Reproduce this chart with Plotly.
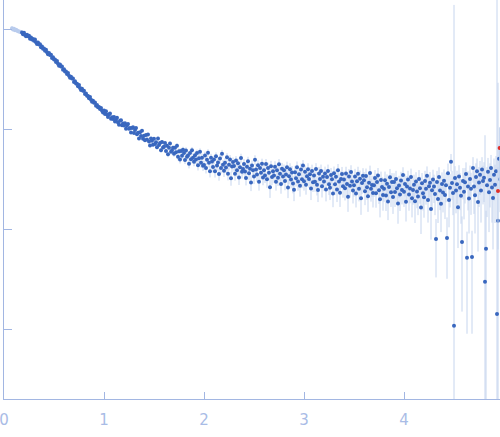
import plotly.graph_objects as go

# excluded low-q points (drawn pale)
q_excl = [0.08, 0.09, 0.10, 0.11, 0.12, 0.13, 0.14, 0.15, 0.16, 0.17]
i_excl = [1040, 1010, 1025, 995, 1005, 985, 972, 966, 958, 948]
e_excl = [45, 32, 22, 16, 13, 11, 10, 9, 8, 8]

# low q
q_low = [0.18, 0.19, 0.20, 0.21, 0.22, 0.23, 0.24, 0.25, 0.26, 0.27, 0.28,
         0.29, 0.30, 0.31, 0.32, 0.33, 0.34, 0.35, 0.36, 0.37, 0.38, 0.39,
         0.40, 0.41, 0.42, 0.43, 0.44, 0.45, 0.46, 0.47, 0.48, 0.49, 0.50,
         0.51, 0.52, 0.53, 0.54, 0.55, 0.56, 0.57, 0.58, 0.59, 0.60, 0.61,
         0.62, 0.63, 0.64, 0.65, 0.66, 0.67, 0.68, 0.69, 0.70, 0.71, 0.72,
         0.73, 0.74, 0.75, 0.76, 0.77, 0.78, 0.79, 0.80, 0.81, 0.82, 0.83,
         0.84, 0.85, 0.86, 0.87, 0.88, 0.89, 0.90, 0.91, 0.92, 0.93, 0.94,
         0.95, 0.96, 0.97, 0.98, 0.99]
i_low = [942, 904, 939, 892, 864, 896, 865, 873, 818, 839, 804,
         813, 778, 801, 754, 724, 746, 716, 720, 670, 683, 649,
         651, 617, 634, 596, 571, 587, 562, 563, 524, 533, 505,
         505, 477, 489, 458, 438, 450, 430, 429, 398, 404, 382,
         382, 362, 371, 347, 332, 340, 325, 325, 301, 306, 290,
         289, 273, 280, 262, 250, 257, 246, 246, 228, 231, 219,
         218, 207, 212, 199, 190, 195, 186, 187, 174, 177, 168,
         169, 161, 165, 155, 149]
e_low = [12, 12, 12, 11, 11, 11, 11, 11, 10, 10, 10,
         10, 10, 9, 9, 9, 9, 9, 8, 8, 8, 8,
         8, 8, 7, 7, 7, 7, 7, 7, 6, 6, 6,
         6, 6, 6, 6, 5, 5, 5, 5, 5, 5, 5,
         4.8, 4.7, 4.6, 4.5, 4.4, 4.3, 4.2, 4.1, 4.0, 3.9, 3.8,
         3.7, 3.6, 3.6, 3.5, 3.4, 3.4, 3.3, 3.2, 3.2, 3.1, 3.1,
         3.0, 3.0, 2.9, 2.9, 2.8, 2.8, 2.7, 2.7, 2.7, 2.6, 2.6,
         2.6, 2.5, 2.5, 2.5, 2.5]

# mid q
q_mid = [1.00, 1.01, 1.02, 1.03, 1.04, 1.05, 1.06, 1.07, 1.08, 1.09,
         1.10, 1.11, 1.12, 1.13, 1.14, 1.15, 1.16, 1.17, 1.18, 1.19,
         1.20, 1.21, 1.22, 1.23, 1.24, 1.25, 1.26, 1.27, 1.28, 1.29,
         1.30, 1.31, 1.32, 1.33, 1.34, 1.35, 1.36, 1.37, 1.38, 1.39,
         1.40, 1.41, 1.42, 1.43, 1.44, 1.45, 1.46, 1.47, 1.48, 1.49,
         1.50, 1.51, 1.52, 1.53, 1.54, 1.55, 1.56, 1.57, 1.58, 1.59,
         1.60, 1.61, 1.62, 1.63, 1.64, 1.65, 1.66, 1.67, 1.68, 1.69,
         1.70, 1.71, 1.72, 1.73, 1.74, 1.75, 1.76, 1.77, 1.78, 1.79,
         1.80, 1.81, 1.82, 1.83, 1.84, 1.85, 1.86, 1.87, 1.88, 1.89,
         1.90, 1.91, 1.92, 1.93, 1.94, 1.95, 1.96, 1.97, 1.98, 1.99]
i_mid = [156, 144, 153, 142, 134, 142, 145, 129, 133, 128,
         134, 121, 125, 132, 118, 112, 123, 124, 111, 115,
         110, 116, 102, 110, 114, 102, 104, 93.8, 104, 106,
         92.8, 99.5, 104, 90.0, 92.9, 81.7, 94.1, 86.6, 97.7, 81.0,
         86.8, 78.3, 88.2, 79.8, 89.4, 76.2, 69.5, 81.4, 77.6, 70.7,
         81.2, 72.0, 74.8, 66.7, 81.8, 70.2, 73.6, 62.3, 75.4, 66.3,
         67.6, 73.7, 61.0, 69.0, 56.6, 65.7, 72.7, 60.0, 62.0, 65.9,
         57.4, 66.0, 59.3, 69.0, 53.5, 60.7, 50.1, 61.3, 54.9, 62.9,
         58.4, 49.7, 62.0, 53.4, 55.2, 45.6, 58.3, 50.4, 62.2, 52.4,
         47.8, 55.3, 50.2, 58.2, 43.9, 51.8, 60.0, 46.6, 52.3, 43.5]
e_mid = [2.6, 2.6, 2.5, 2.5, 2.5, 2.4, 2.4, 2.4, 2.3, 2.3,
         2.3, 2.3, 2.2, 2.2, 2.2, 2.2, 2.1, 2.1, 2.1, 2.1,
         2.1, 2.0, 2.0, 2.0, 2.0, 2.0, 2.0, 1.9, 1.9, 1.9,
         2.0, 2.1, 2.1, 2.2, 2.2, 2.3, 2.3, 2.4, 2.4, 2.5,
         2.5, 2.6, 2.6, 2.7, 2.7, 2.8, 2.8, 2.9, 2.9, 3.0,
         3.0, 3.1, 3.1, 3.2, 3.2, 3.3, 3.3, 3.4, 3.4, 3.5,
         3.5, 3.6, 3.6, 3.7, 3.7, 3.8, 3.8, 3.9, 3.9, 4.0,
         4.0, 4.1, 4.1, 4.2, 4.2, 4.3, 4.3, 4.4, 4.4, 4.5,
         4.5, 4.5, 4.6, 4.6, 4.6, 4.7, 4.7, 4.7, 4.8, 4.8,
         4.8, 4.8, 4.9, 4.9, 4.9, 4.9, 4.9, 4.9, 4.9, 4.9]

# high q, noisy
q_high = [2.00, 2.01, 2.02, 2.03, 2.04, 2.05, 2.06, 2.07, 2.08, 2.09,
          2.10, 2.11, 2.12, 2.13, 2.14, 2.15, 2.16, 2.17, 2.18, 2.19,
          2.20, 2.21, 2.22, 2.23, 2.24, 2.25, 2.26, 2.27, 2.28, 2.29,
          2.30, 2.31, 2.32, 2.33, 2.34, 2.35, 2.36, 2.37, 2.38, 2.39,
          2.40, 2.41, 2.42, 2.43, 2.44, 2.45, 2.46, 2.47, 2.48, 2.49,
          2.50, 2.51, 2.52, 2.53, 2.54, 2.55, 2.56, 2.57, 2.58, 2.59,
          2.60, 2.61, 2.62, 2.63, 2.64, 2.65, 2.66, 2.67, 2.68, 2.69,
          2.70, 2.71, 2.72, 2.73, 2.74, 2.75, 2.76, 2.77, 2.78, 2.79,
          2.80, 2.81, 2.82, 2.83, 2.84, 2.85, 2.86, 2.87, 2.88, 2.89,
          2.90, 2.91, 2.92, 2.93, 2.94, 2.95, 2.96, 2.97, 2.98, 2.99,
          3.00, 3.01, 3.02, 3.03, 3.04, 3.05, 3.06, 3.07, 3.08, 3.09,
          3.10, 3.11, 3.12, 3.13, 3.14, 3.15, 3.16, 3.17, 3.18, 3.19,
          3.20, 3.21, 3.22, 3.23, 3.24, 3.25, 3.26, 3.27, 3.28, 3.29,
          3.30, 3.31, 3.32, 3.33, 3.34, 3.35, 3.36, 3.37, 3.38, 3.39,
          3.40, 3.41, 3.42, 3.43, 3.44, 3.45, 3.46, 3.47, 3.48, 3.49,
          3.50, 3.51, 3.52, 3.53, 3.54, 3.55, 3.56, 3.57, 3.58, 3.59,
          3.60, 3.61, 3.62, 3.63, 3.64, 3.65, 3.66, 3.67, 3.68, 3.69,
          3.70, 3.71, 3.72, 3.73, 3.74, 3.75, 3.76, 3.77, 3.78, 3.79,
          3.80, 3.81, 3.82, 3.83, 3.84, 3.85, 3.86, 3.87, 3.88, 3.89,
          3.90, 3.91, 3.92, 3.93, 3.94, 3.95, 3.96, 3.97, 3.98, 3.99,
          4.00, 4.01, 4.02, 4.03, 4.04, 4.05, 4.06, 4.07, 4.08, 4.09,
          4.10, 4.11, 4.12, 4.13, 4.14, 4.15, 4.16, 4.17, 4.18, 4.19,
          4.20, 4.21, 4.22, 4.23, 4.24, 4.25, 4.26, 4.27, 4.28, 4.29,
          4.30, 4.31, 4.32, 4.33, 4.34, 4.35, 4.36, 4.37, 4.38, 4.39,
          4.40, 4.41, 4.42, 4.43, 4.44, 4.45, 4.46, 4.47, 4.48, 4.49,
          4.50, 4.51, 4.52, 4.53, 4.54, 4.55, 4.56, 4.57, 4.58, 4.59,
          4.60, 4.61, 4.62, 4.63, 4.64, 4.65, 4.66, 4.67, 4.68, 4.69,
          4.70, 4.71, 4.72, 4.73, 4.74, 4.75, 4.76, 4.77, 4.78, 4.79,
          4.80, 4.81, 4.82, 4.83, 4.84, 4.85, 4.86, 4.87, 4.88, 4.89,
          4.90, 4.91, 4.92, 4.93, 4.94, 4.95, 4.96]
i_high = [44.2, 55.2, 41.3, 49.9, 58.6, 46.6, 38.4, 52.3, 48.0, 42.2,
          50.1, 38.2, 54.3, 43.7, 46.9, 35.9, 51.5, 41.4, 57.5, 44.6,
          38.7, 46.6, 41.8, 52.8, 36.1, 44.4, 50.2, 32.6, 42.7, 47.5,
          43.3, 36.1, 49.1, 39.1, 46.2, 33.2, 42.0, 52.1, 37.8, 40.3,
          45.4, 38.1, 32.8, 42.5, 48.2, 36.5, 40.5, 29.6, 43.7, 39.3,
          33.9, 49.9, 39.8, 35.5, 44.1, 30.0, 41.3, 37.1, 45.6, 33.2,
          39.3, 34.8, 45.4, 31.8, 41.2, 37.0, 26.5, 43.1, 33.6, 38.2,
          34.8, 42.5, 30.0, 39.2, 32.9, 45.0, 36.2, 28.5, 40.6, 34.0,
          39.1, 30.5, 35.5, 41.9, 26.3, 34.1, 40.1, 31.6, 37.3, 28.8,
          25.0, 37.5, 32.6, 42.0, 30.2, 35.7, 27.4, 39.9, 31.9, 43.7,
          30.4, 37.9, 28.1, 34.1, 40.2, 32.1, 35.8, 25.7, 38.5, 29.7,
          34.7, 30.0, 40.3, 28.1, 24.8, 36.3, 32.0, 38.6, 27.1, 33.7,
          30.3, 36.4, 25.1, 33.5, 38.6, 28.3, 26.1, 35.1, 31.9, 22.9,
          36.5, 28.4, 33.7, 25.2, 39.1, 30.2, 23.3, 32.1, 35.9, 27.1,
          31.7, 25.9, 36.3, 28.6, 21.3, 33.9, 27.4, 37.6, 30.2, 24.6,
          27.7, 34.0, 22.9, 30.4, 36.1, 25.6, 32.2, 20.5, 29.2, 34.6,
          31.2, 24.1, 34.4, 26.5, 21.5, 29.4, 36.8, 25.6, 27.9, 23.2,
          27.8, 32.7, 23.0, 29.8, 34.7, 24.7, 20.1, 31.3, 26.7, 22.1,
          25.6, 31.2, 21.9, 28.7, 19.1, 26.7, 33.4, 23.6, 29.8, 21.1,
          29.8, 23.7, 32.0, 25.9, 18.2, 27.6, 22.4, 30.9, 24.8, 35.1,
          23.8, 28.6, 18.9, 27.0, 31.6, 22.4, 25.7, 33.5, 20.5, 24.8,
          28.0, 19.2, 30.2, 24.0, 21.4, 32.0, 25.9, 16.6, 29.1, 23.0,
          21.0, 30.6, 25.5, 34.6, 19.7, 27.1, 29.3, 16.0, 24.7, 31.7,
          26.9, 22.6, 8.0, 29.8, 20.2, 33.5, 24.5, 18.1, 28.5, 23.4,
          30.8, 22.1, 27.8, 8.2, 36.5, 19.7, 26.2, 47.6, 29.2, 23.2,
          1.08, 32.8, 24.5, 28.4, 16.7, 33.9, 26.1, 21.7, 7.5, 30.6,
          23.8, 29.7, 35.9, 5.2, 26.9, 20.4, 32.0, 25.5, 5.3, 41.2,
          26.9, 22.0, 33.5, 38.4, 18.8, 29.5, 35.3, 24.6, 39.9, 30.6,
          33.0, 2.98, 6.4, 27.7, 37.8, 23.6, 31.3, 41.3, 26.3, 20.7,
          35.4, 28.1, 38.2, 1.42, 12.2, 51.0, 31.9]
e_high = [4.8, 5.0, 4.9, 5.1, 5.0, 4.9, 5.2, 5.0, 5.1, 5.0,
          5.0, 5.1, 4.9, 5.2, 5.0, 5.1, 5.3, 5.1, 5.2, 5.1,
          5.1, 5.2, 5.0, 5.3, 5.1, 5.2, 5.4, 5.2, 5.3, 5.2,
          5.2, 5.3, 5.1, 5.4, 5.2, 5.3, 5.5, 5.3, 5.4, 5.3,
          5.3, 5.4, 5.2, 5.5, 5.3, 5.4, 5.6, 5.4, 5.5, 5.4,
          5.4, 5.5, 5.3, 5.6, 5.4, 5.5, 5.7, 5.5, 5.6, 5.5,
          5.5, 5.6, 5.4, 5.7, 5.5, 5.6, 5.8, 5.6, 5.7, 5.6,
          5.6, 5.7, 5.5, 5.8, 5.6, 5.7, 5.9, 5.7, 5.8, 5.7,
          5.7, 5.8, 5.6, 5.9, 5.7, 5.8, 6.0, 5.8, 5.9, 5.8,
          5.8, 5.9, 5.7, 6.0, 5.8, 5.9, 6.1, 5.9, 6.0, 5.9,
          5.9, 6.0, 5.8, 6.1, 5.9, 6.0, 6.2, 6.0, 6.1, 6.0,
          6.0, 6.1, 5.9, 6.2, 6.0, 6.1, 6.3, 6.1, 6.2, 6.1,
          6.1, 6.2, 6.0, 6.3, 6.1, 6.2, 6.4, 6.2, 6.3, 6.2,
          6.2, 6.3, 6.1, 6.4, 6.2, 6.3, 6.5, 6.3, 6.4, 6.3,
          6.3, 6.4, 6.2, 6.5, 6.3, 6.4, 6.6, 6.4, 6.5, 6.4,
          6.4, 6.5, 6.3, 6.6, 6.4, 6.5, 6.7, 6.5, 6.6, 6.5,
          6.5, 6.6, 6.4, 6.7, 6.5, 6.6, 6.8, 6.6, 6.7, 6.6,
          6.6, 6.7, 6.5, 6.8, 6.6, 6.7, 6.9, 6.7, 6.8, 6.7,
          6.7, 6.8, 6.6, 6.9, 6.7, 6.8, 7.0, 6.8, 6.9, 6.8,
          6.8, 6.9, 6.7, 7.0, 6.8, 6.9, 7.1, 6.9, 7.0, 6.9,
          7.0, 7.2, 6.9, 7.3, 7.1, 7.0, 7.4, 7.2, 7.3, 7.1,
          7.4, 7.6, 7.3, 7.7, 7.5, 7.4, 7.8, 7.6, 7.7, 7.5,
          7.9, 8.1, 7.8, 8.2, 8.0, 7.9, 8.3, 8.1, 8.2, 8.0,
          8.5, 8.7, 4.7, 8.8, 8.6, 8.5, 8.9, 8.7, 8.8, 8.6,
          9.2, 9.4, 9.1, 5.0, 9.3, 9.2, 9.6, 9.4, 9.5, 9.3,
          1780, 10.3, 10.0, 10.4, 10.2, 10.1, 10.5, 10.3, 6.0, 10.6,
          11.2, 11.5, 11.1, 4.3, 11.4, 11.3, 11.7, 11.5, 4.4, 11.8,
          12.6, 12.9, 12.5, 13.0, 12.8, 12.7, 13.2, 12.9, 13.1, 12.8,
          14.2, 85, 9.0, 14.4, 14.3, 14.2, 14.7, 14.5, 14.6, 14.4,
          16.0, 16.5, 16.2, 2000, 283, 20.0, 17.0]

# flagged points (red)
q_flag = [4.94, 4.956]
i_flag = [24.3, 65.6]
e_flag = [18.0, 40.0]

q_all = q_low + q_mid + q_high
i_all = i_low + i_mid + i_high
e_all = e_low + e_mid + e_high

axis_col = "#a2b6e2"
err_col = "#c6d5ee"

fig = go.Figure()
fig.add_scatter(x=q_excl, y=i_excl, mode="markers",
                marker=dict(color="#b9cced", size=4),
                error_y=dict(type="data", array=e_excl, color="#d3def2", thickness=1, width=0))
fig.add_scatter(x=q_all, y=i_all, mode="markers",
                marker=dict(color="#3967bf", size=4),
                error_y=dict(type="data", array=e_all, color=err_col, thickness=1, width=0))
fig.add_scatter(x=q_flag, y=i_flag, mode="markers",
                marker=dict(color="#e0302a", size=4),
                error_y=dict(type="data", array=e_flag, color=err_col, thickness=1, width=0))

fig.update_layout(width=500, height=437, margin=dict(l=4, r=0, t=0, b=38),
                  plot_bgcolor="white", paper_bgcolor="white", showlegend=False)
fig.update_xaxes(range=[0, 4.96], showgrid=False, zeroline=False, automargin=False,
                 showline=True, linecolor=axis_col, linewidth=1,
                 ticks="inside", ticklen=7, tickcolor=axis_col,
                 tickvals=[0, 1, 2, 3, 4], ticklabelstandoff=7,
                 ticklabeloverflow="allow",
                 tickfont=dict(family="DejaVu Sans", size=15, color="#a9bce6"))
fig.update_yaxes(type="log", range=[-0.7, 3.3], showgrid=False, zeroline=False,
                 automargin=False,
                 showline=True, linecolor=axis_col, linewidth=1,
                 ticks="inside", ticklen=8, tickcolor=axis_col,
                 tickvals=[1, 10, 100, 1000], showticklabels=False)

# page body margin would shift the figure, drop it
fig.write_html("out.html", config={"displayModeBar": False},
               post_script="document.body.style.margin='0';")
